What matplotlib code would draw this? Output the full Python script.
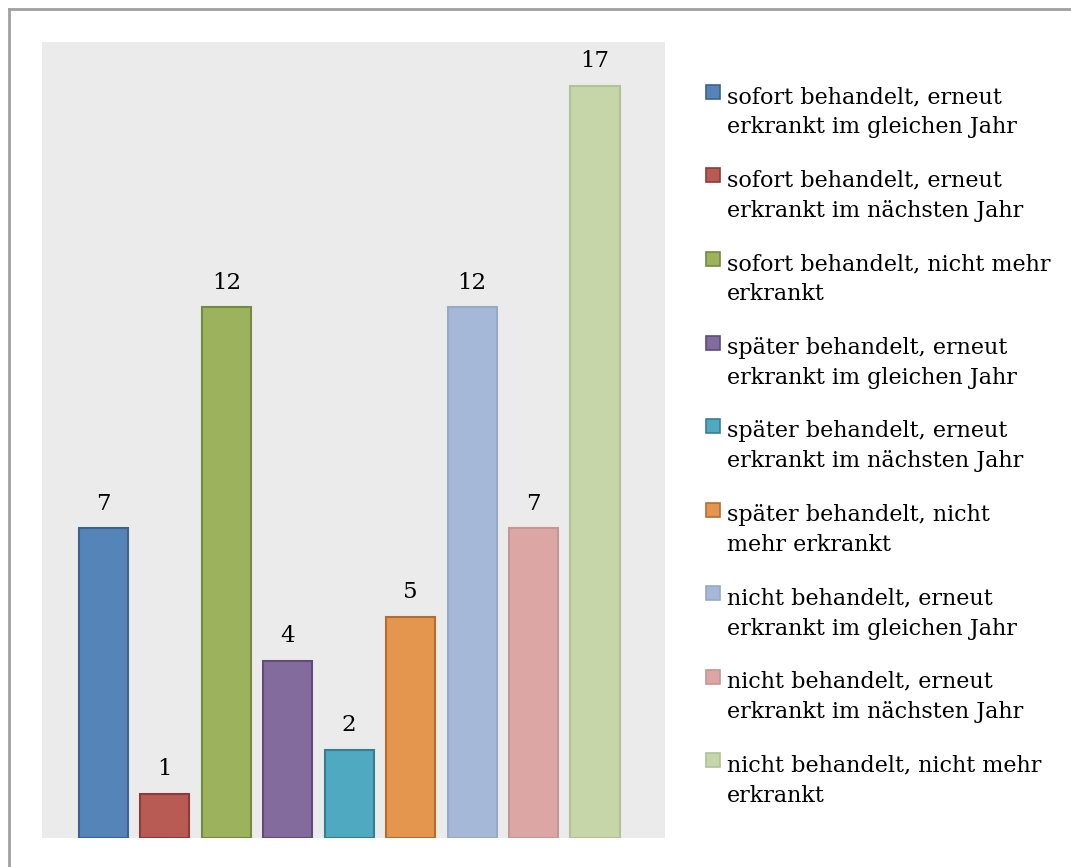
import matplotlib.pyplot as plt
from matplotlib.lines import Line2D
from matplotlib.patches import Rectangle

categories = [
    "sofort behandelt, erneut\nerkrankt im gleichen Jahr",
    "sofort behandelt, erneut\nerkrankt im nächsten Jahr",
    "sofort behandelt, nicht mehr\nerkrankt",
    "später behandelt, erneut\nerkrankt im gleichen Jahr",
    "später behandelt, erneut\nerkrankt im nächsten Jahr",
    "später behandelt, nicht\nmehr erkrankt",
    "nicht behandelt, erneut\nerkrankt im gleichen Jahr",
    "nicht behandelt, erneut\nerkrankt im nächsten Jahr",
    "nicht behandelt, nicht mehr\nerkrankt",
]
counts = [7, 1, 12, 4, 2, 5, 12, 7, 17]

fills = ["#5585B8", "#B95B55", "#9CB25D", "#846B9E", "#4FA9C0",
         "#E4964E", "#A5B8D8", "#DCA6A4", "#C6D6A8"]
edges = ["#3C6390", "#8E3B37", "#758A40", "#5F4C7A", "#367F92",
         "#B46D2E", "#98A9C6", "#C59694", "#B3C196"]

plt.rcParams['font.family'] = ['DejaVu Serif']
FS = 16

fig = plt.figure(figsize=(10.71, 8.67), dpi=100)
W, H = 1071, 867

# frame around the chart (only top and left edges are visible)
fig.add_artist(Line2D([8.5 / W, 1], [1 - 8.5 / H, 1 - 8.5 / H], color="#a0a0a0", lw=2))
fig.add_artist(Line2D([8.5 / W, 8.5 / W], [0, 1 - 8.5 / H], color="#a0a0a0", lw=2))

ax = fig.add_axes([42 / W, 1 - 838 / H, 623 / W, 796 / H])
ax.set_facecolor("#EBEBEB")
x = range(len(counts))
bars = ax.bar(x, counts, width=0.8, color=fills, edgecolor=edges, linewidth=1.5)
for xi, v in zip(x, counts):
    ax.annotate(str(v), (xi, v), xytext=(0, 13.5), textcoords="offset points",
                ha="center", va="baseline", fontsize=FS + 0.5)
ax.set_xlim(-1.0, 9.14)
ax.set_ylim(0, 18)
ax.set_xticks([])
ax.set_yticks([])
for s in ax.spines.values():
    s.set_visible(False)

# legend drawn by hand: square marker next to the first line of each entry
y0, step, lead = 103, 83.5, 30.5
for i, (lab, fc, ec) in enumerate(zip(categories, fills, edges)):
    base = y0 + i * step
    fig.add_artist(Rectangle((705.5 / W, 1 - (base - 4) / H), 14 / W, 14 / H,
                             facecolor=fc, edgecolor=ec, linewidth=1.2,
                             transform=fig.transFigure))
    for j, line in enumerate(lab.split("\n")):
        fig.text(727 / W, 1 - (base + j * lead) / H, line,
                 fontsize=FS, va="baseline", ha="left")

fig.savefig("out.png", dpi=100)
